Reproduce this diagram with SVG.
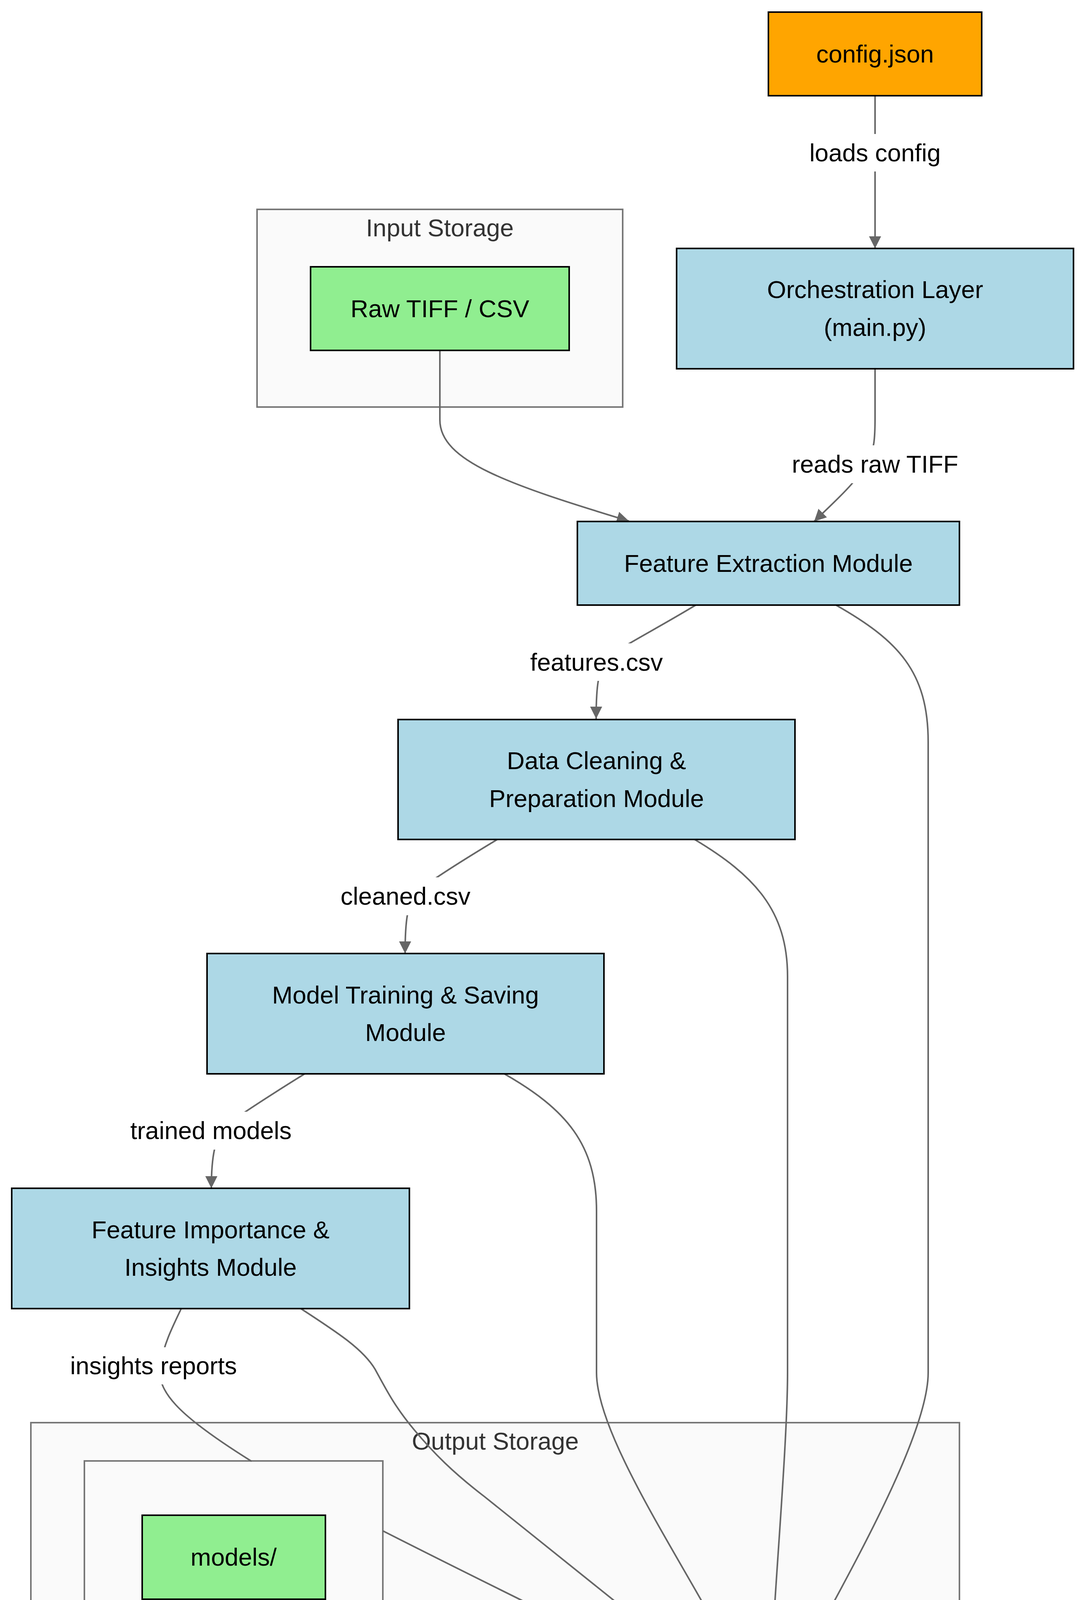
<svg xmlns="http://www.w3.org/2000/svg" width="2780" height="5184" viewBox="0 0 2780 5184">
<style>
text{font-family:"Liberation Sans",Arial,sans-serif;font-size:63px;fill:#000;text-anchor:middle;dominant-baseline:central}
.cl{fill:#333}
.cluster rect{fill:#fafafa;stroke:#777;stroke-width:4}
.node rect{stroke:#000;stroke-width:4}
.blue rect{fill:#add8e6}
.green rect{fill:#90ee90}
.orange rect{fill:#ffa500}
.edge{fill:none;stroke:#666;stroke-width:4}
.lbg{fill:#ffffff}
</style>
<defs>
<marker id="arr" viewBox="0 0 10 10" refX="10" refY="5" markerUnits="userSpaceOnUse" markerWidth="31" markerHeight="32" orient="auto">
<path d="M0,0 L10,5 L0,10 z" fill="#666"/>
</marker>
</defs>
<rect width="2780" height="5184" fill="#ffffff"/>

<g id="cluster-input" class="cluster">
<rect x="658" y="536" width="936" height="506"/>
<text class="cl" x="1126" y="583">Input Storage</text>
</g>
<g id="cluster-output" class="cluster">
<rect x="79" y="3642" width="2377" height="1510"/>
<text class="cl" x="1268" y="3689">Output Storage</text>
</g>
<g id="cluster-output-inner" class="cluster">
<rect x="216" y="3740" width="764" height="1312"/>
</g>

<g id="edges">
<path class="edge" d="M2240,245 L2240,636" marker-end="url(#arr)"/>
<path class="edge" d="M2240,944 L2240,1070 C2240,1130 2236,1150 2226,1170 C2200,1230 2140,1280 2084,1335" marker-end="url(#arr)"/>
<path class="edge" d="M1126,897 L1126,1075 C1126,1180 1300,1240 1610,1334" marker-end="url(#arr)"/>
<path class="edge" d="M1781,1549 C1680,1610 1600,1650 1560,1680 C1530,1710 1526,1760 1526,1840" marker-end="url(#arr)"/>
<path class="edge" d="M2140,1549 C2300,1640 2376,1720 2376,1900 L2376,3514 C2376,3700 2100,4150 2035,4290" marker-end="url(#arr)"/>
<path class="edge" d="M1273,2149 C1180,2205 1110,2250 1070,2280 C1042,2310 1037,2360 1037,2441" marker-end="url(#arr)"/>
<path class="edge" d="M1778,2149 C1930,2240 2016,2330 2016,2500 L2016,3514 C2016,3700 1980,4100 1973,4290" marker-end="url(#arr)"/>
<path class="edge" d="M780,2749 C690,2805 620,2850 580,2880 C550,2910 541,2960 541,3042" marker-end="url(#arr)"/>
<path class="edge" d="M1291,2749 C1450,2840 1527,2930 1527,3100 L1527,3514 C1527,3700 1820,4100 1894,4290" marker-end="url(#arr)"/>
<path class="edge" d="M770,3350 C870,3415 930,3455 960,3505 C990,3560 1010,3600 1060,3660 C1110,3720 1160,3770 1241,3832 L1812,4290" marker-end="url(#arr)"/>
<path class="edge" d="M464,3350 C440,3400 420,3440 410,3495 C400,3560 450,3620 644,3741"/>
<path class="edge" d="M980,3919 C1100,3980 1400,4130 1729,4290" marker-end="url(#arr)"/>

<g id="edge-labels">
<rect class="lbg" x="2072" y="343" width="336" height="96"/>
<text x="2240" y="391">loads config</text>
<rect class="lbg" x="2026" y="1140" width="428" height="97"/>
<text x="2240" y="1188">reads raw TIFF</text>
<rect class="lbg" x="1357" y="1647" width="340" height="96"/>
<text x="1527" y="1695">features.csv</text>
<rect class="lbg" x="872" y="2246" width="333" height="97"/>
<text x="1038" y="2294">cleaned.csv</text>
<rect class="lbg" x="334" y="2846" width="413" height="97"/>
<text x="540" y="2894">trained models</text>
<rect class="lbg" x="180" y="3449" width="427" height="95"/>
<text x="393" y="3496">insights reports</text>
</g>
</g>

<g id="config" class="node orange">
<rect x="1967" y="31" width="546" height="214"/>
<text x="2240" y="138">config.json</text>
</g>
<g id="orchestration" class="node blue">
<rect x="1732" y="636" width="1016" height="308"/>
<text x="2240" y="741">Orchestration Layer</text>
<text x="2240" y="838">(main.py)</text>
</g>
<g id="raw" class="node green">
<rect x="795" y="683" width="662" height="214"/>
<text x="1126" y="790">Raw TIFF / CSV</text>
</g>
<g id="feature-extraction" class="node blue">
<rect x="1478" y="1335" width="978" height="214"/>
<text x="1967" y="1442">Feature Extraction Module</text>
</g>
<g id="data-cleaning" class="node blue">
<rect x="1019" y="1842" width="1016" height="307"/>
<text x="1527" y="1947">Data Cleaning &amp;</text>
<text x="1527" y="2044">Preparation Module</text>
</g>
<g id="model-training" class="node blue">
<rect x="530" y="2441" width="1016" height="308"/>
<text x="1038" y="2547">Model Training &amp; Saving</text>
<text x="1038" y="2643">Module</text>
</g>
<g id="feature-importance" class="node blue">
<rect x="30" y="3042" width="1018" height="308"/>
<text x="539" y="3148">Feature Importance &amp;</text>
<text x="539" y="3244">Insights Module</text>
</g>
<g id="models" class="node green">
<rect x="364" y="3879" width="469" height="215"/>
<text x="598" y="3986">models/</text>
</g>
<g id="reports" class="node green">
<rect x="363" y="4290" width="470" height="214"/>
<text x="598" y="4397">reports/</text>
</g>
<g id="plots" class="node green">
<rect x="394" y="4700" width="407" height="214"/>
<text x="597" y="4807">plots/</text>
</g>
<g id="analysis-results" class="node green">
<rect x="1615" y="4290" width="704" height="214"/>
<text x="1967" y="4397">analysis_results/</text>
</g>
</svg>
